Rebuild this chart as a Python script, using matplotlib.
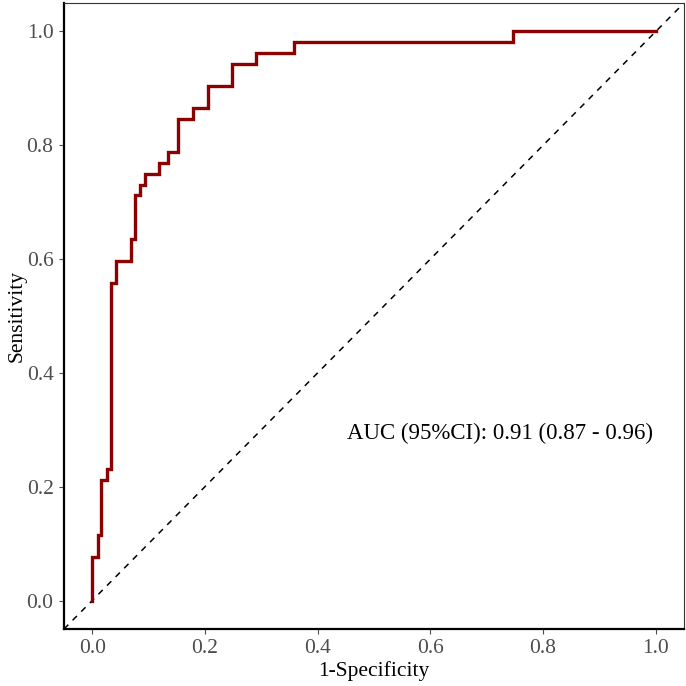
import matplotlib
matplotlib.use("Agg")
import matplotlib.pyplot as plt

plt.rcParams['font.family'] = ['Liberation Serif', 'DejaVu Serif']

fpr = [0, 0.0107, 0.016, 0.0267, 0.0338, 0.0427, 0.0694, 0.0765, 0.0854, 0.0943,
       0.1192, 0.1352, 0.153, 0.1797, 0.2046, 0.2473, 0.29, 0.3577, 0.7473, 1.0]
tpr = [0, 0.077, 0.115, 0.212, 0.231, 0.558, 0.596, 0.635, 0.712, 0.731,
       0.75, 0.769, 0.788, 0.846, 0.865, 0.904, 0.942, 0.962, 0.981, 1.0]
ticks = [0.0, 0.2, 0.4, 0.6, 0.8, 1.0]
tick_labels = ["0.0", "0.2", "0.4", "0.6", "0.8", "1.0"]
auc_text = "AUC (95%CI): 0.91 (0.87 - 0.96)"

fig = plt.figure(figsize=(6.86, 6.86), dpi=100)
ax = fig.add_axes([64/686, 57/686, 620/686, 626/686])

ax.plot([-0.05, 1.05], [-0.05, 1.05], linestyle=(0, (4, 4)), color='black', linewidth=1.1)
ax.plot(fpr, tpr, drawstyle='steps-pre', color='#8B0000', linewidth=2.4, solid_joinstyle='miter')

ax.set_xlim(-0.05, 1.05)
ax.set_ylim(-0.05, 1.05)
ax.set_xticks(ticks)
ax.set_xticklabels(tick_labels)
ax.set_yticks(ticks)
ax.set_yticklabels(tick_labels)
ax.tick_params(axis='both', labelsize=15.5, colors='#4D4D4D', length=3.5, width=0.8, pad=4)
ax.tick_params(axis='y', pad=4)
ax.set_xlabel("1-Specificity", fontsize=15.5, color='black', labelpad=2)
ax.set_ylabel("Sensitivity", fontsize=15.5, color='black', labelpad=0)

for side in ['top', 'right']:
    ax.spines[side].set_linewidth(0.8)
    ax.spines[side].set_color('#333333')
for side in ['left', 'bottom']:
    ax.spines[side].set_linewidth(1.6)
    ax.spines[side].set_color('black')

ax.text(0.724, 0.294, auc_text, ha='center', va='center', fontsize=16.5, color='black')

fig.savefig("out.png", dpi=100)
